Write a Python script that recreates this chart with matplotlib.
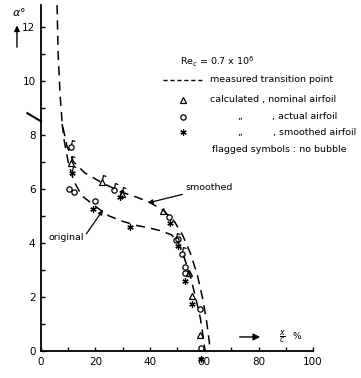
import numpy as np
import matplotlib
matplotlib.use("Agg")
import matplotlib.pyplot as plt
from matplotlib.path import Path
from matplotlib.ticker import MultipleLocator

# ------------------------------------------------------------------
# measured transition point curves  (x/c in %, alpha in deg)
# ------------------------------------------------------------------
smooth_x = [5.9, 6.3, 7.0, 7.8, 9.5, 12.0, 16.0, 22.0, 29.0, 35.0, 40.0,
            45.0, 49.0, 52.0, 55.0, 57.5, 59.3, 60.8, 61.8, 62.2]
smooth_a = [12.8, 11.0, 9.5, 8.4, 7.6, 7.0, 6.6, 6.25, 5.9, 5.7, 5.5,
            5.2, 4.8, 4.3, 3.6, 2.8, 2.0, 1.15, 0.4, 0.0]

orig_x = [7.8, 8.5, 10.0, 12.0, 15.0, 20.0, 25.0, 30.0, 35.0, 40.0, 44.0,
          48.0, 50.5, 52.5, 54.8, 56.8, 58.6, 59.8, 60.3]
orig_a = [8.4, 7.8, 7.0, 6.3, 5.75, 5.35, 5.0, 4.8, 4.65, 4.55, 4.45,
          4.3, 4.0, 3.5, 2.8, 2.0, 1.2, 0.4, 0.0]

# calculated, nominal airfoil (triangles)
tri_x = [11.0, 22.4, 29.8, 45.0, 54.5, 55.5, 58.5]
tri_a = [6.95, 6.25, 5.8, 5.2, 2.9, 2.05, 0.6]
tri_flag = [True, True, True, False, False, False, False]

# calculated, actual airfoil (circles)
circ_x = [11.0, 27.0, 49.6, 52.0, 10.3, 12.1, 19.9, 47.0, 50.4, 53.0, 53.0, 58.5, 59.0]
circ_a = [7.55, 5.95, 4.1, 3.6, 6.0, 5.9, 5.55, 4.95, 4.15, 3.1, 2.9, 1.55, 0.1]
circ_flag = [True, True, True, True, False, False, False, False, False, False, False, False, False]

# calculated, smoothed airfoil (asterisks)
ast_x = [11.4, 29.0, 19.1, 32.7, 47.4, 50.5, 53.0, 55.5, 59.0]
ast_a = [6.6, 5.7, 5.25, 4.6, 4.75, 3.9, 2.6, 1.75, -0.3]
ast_flag = [True, True, False, False, False, False, False, False, False]

yticks = [0, 2, 4, 6, 8, 10, 12]
xticks = [0, 20, 40, 60, 80, 100]

# ------------------------------------------------------------------
fig = plt.figure(figsize=(3.61, 3.78), dpi=100)
ax = fig.add_axes([0.1136, 0.0714, 0.7535, 0.915])

ax.plot(smooth_x, smooth_a, color="black", lw=1.1, ls=(0, (6, 4)))
ax.plot(orig_x, orig_a, color="black", lw=1.1, ls=(0, (6, 4)))

# little flag on top of a symbol = no bubble
flag_marker = Path([(0, 0.35), (0.15, 1.0), (0.55, 0.85)],
                   [Path.MOVETO, Path.LINETO, Path.LINETO])


def draw_symbols(xs, ys, flags, marker, size):
    ax.plot(xs, ys, ls="none", marker=marker, ms=size, mfc="none",
            mec="black", mew=0.9, clip_on=False)
    fx = [x for x, f in zip(xs, flags) if f]
    fy = [y for y, f in zip(ys, flags) if f]
    ax.plot(fx, fy, ls="none", marker=flag_marker, ms=10, mfc="none",
            mec="black", mew=0.9, clip_on=False)


draw_symbols(tri_x, tri_a, tri_flag, "^", 4.5)
draw_symbols(circ_x, circ_a, circ_flag, "o", 3.8)
draw_symbols(ast_x, ast_a, ast_flag, (6, 2, 0), 4.5)

# axes style
ax.set_xlim(0, 100)
ax.set_ylim(0, 12.8)
ax.set_xticks(xticks)
ax.set_yticks(yticks)
ax.xaxis.set_minor_locator(MultipleLocator(10))
ax.yaxis.set_minor_locator(MultipleLocator(1))
ax.tick_params(which="both", direction="in", length=3, width=1.0,
               labelsize=7.5, pad=4)
for s in ["top", "right"]:
    ax.spines[s].set_visible(False)
for s in ["left", "bottom"]:
    ax.spines[s].set_linewidth(1.3)

# legend block (hand drawn in the original)
fs = 6.8
ax.text(51.1, 10.7, r"Re$_c$ = 0.7 x 10$^6$", fontsize=fs, va="center")
ax.plot([44.9, 59.6], [10.04, 10.04], color="black", lw=1.0,
        ls=(0, (3, 2)), clip_on=False)
ax.text(62.1, 10.04, "measured transition point", fontsize=fs, va="center")
ax.plot([52.2], [9.3], marker="^", ms=4.5, mfc="none", mec="black", mew=0.9)
ax.text(62.1, 9.3, "calculated , nominal airfoil", fontsize=fs, va="center")
ax.plot([52.2], [8.67], marker="o", ms=3.8, mfc="none", mec="black", mew=0.9)
ax.text(72, 8.67, "\u201e", fontsize=fs, va="center")
ax.text(85, 8.67, ", actual airfoil", fontsize=fs, va="center")
ax.plot([52.2], [8.1], marker=(6, 2, 0), ms=4.5, mec="black", mew=0.9)
ax.text(72, 8.1, "\u201e", fontsize=fs, va="center")
ax.text(85.3, 8.1, ", smoothed airfoil", fontsize=fs, va="center")
ax.text(63, 7.44, "flagged symbols : no bubble", fontsize=fs, va="center")

# curve labels
ax.annotate("smoothed", xy=(39.3, 5.48), xytext=(53, 6.04), fontsize=fs,
            va="center",
            arrowprops=dict(arrowstyle="-|>", color="black", lw=0.9,
                            shrinkA=0, shrinkB=0))
ax.annotate("original", xy=(22.8, 5.22), xytext=(2.6, 4.19), fontsize=fs,
            va="center",
            arrowprops=dict(arrowstyle="-|>", color="black", lw=0.9,
                            shrinkA=0, shrinkB=0, relpos=(1, 0.5)))

# slash mark on the alpha axis
ax.plot([-5, 0], [8.8, 8.5], color="black", lw=1.5, clip_on=False)

# x label with arrow
ax.annotate("", xy=(81.6, 0.52), xytext=(72, 0.52),
            arrowprops=dict(arrowstyle="-|>", color="black", lw=1.0))
ax.text(88.6, 0.52, r"$\frac{x}{c}$", fontsize=8, ha="center", va="center")
ax.text(92.6, 0.52, "%", fontsize=6.5, ha="left", va="center")

# alpha label with arrow
fig.text(0.053, 0.968, r"$\alpha$°", fontsize=8, ha="center", va="center")
fig.patches.append(matplotlib.patches.FancyArrowPatch(
    (0.047, 0.868), (0.047, 0.94), transform=fig.transFigure,
    arrowstyle="-|>", mutation_scale=8, color="black", lw=1.0))

fig.savefig("out.png", dpi=100)
